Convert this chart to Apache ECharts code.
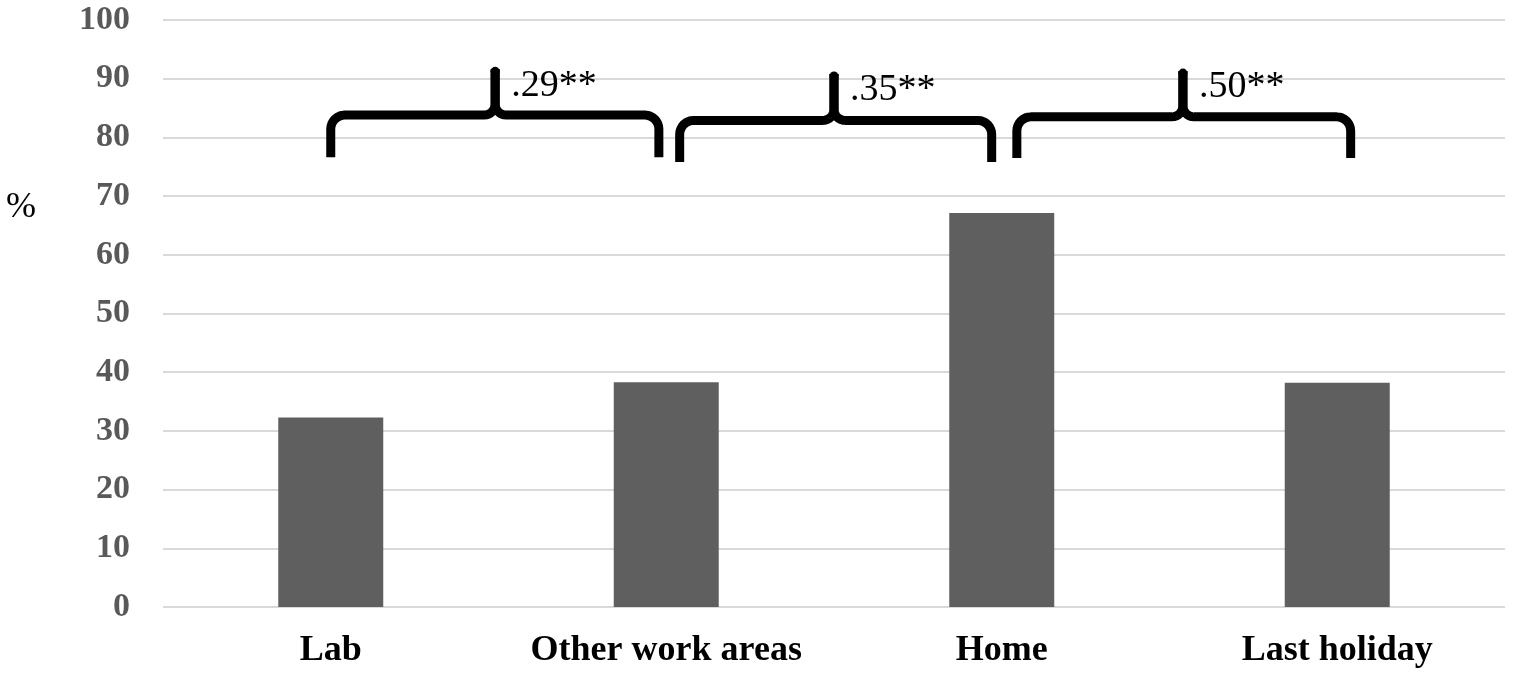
<!DOCTYPE html>
<html>
<head>
<meta charset="utf-8">
<title>Location chart</title>
<script src="https://cdn.jsdelivr.net/npm/echarts@6/dist/echarts.min.js"></script>
<style>
  html, body { margin: 0; padding: 0; background: #fff; }
  #chart { width: 1525px; height: 678px; }
</style>
</head>
<body>
<div id="chart"></div>
<script>
// categories and bar values (%)
var categories = ['Lab', 'Other work areas', 'Home', 'Last holiday'];
var values = [32.3, 38.3, 67.1, 38.2];
var yTicks = [0, 10, 20, 30, 40, 50, 60, 70, 80, 90, 100];

// braces between neighbouring bars (x in category units, y in %)
var braceStart = [0.0, 1.04, 2.045];
var braceEnd = [0.978, 1.97, 3.04];
var braceTip = [0.49, 1.50, 2.54];
var braceBottom = [76.6, 75.8, 76.5];
var braceFlat = [83.8, 82.9, 83.5];
var braceTop = [91.6, 90.8, 91.3];
var braceLabelY = [88.8, 88.0, 88.5];
var braceLabels = ['.29**', '.35**', '.50**'];

var braceData = [];
for (var i = 0; i < braceLabels.length; i++) {
	braceData.push([braceStart[i], braceEnd[i], braceTip[i], braceBottom[i], braceFlat[i], braceTop[i], braceLabelY[i], braceLabels[i]]);
}

var FONT = '"Liberation Serif", "Times New Roman", serif';

// quarter arc points, screen coords
function arc(cx, cy, r, a0, a1, n) {
	var pts = [];
	for (var k = 0; k <= n; k++) {
		var a = a0 + (a1 - a0) * k / n;
		pts.push([cx + r * Math.cos(a), cy + r * Math.sin(a)]);
	}
	return pts;
}

function renderBrace(params, api) {
	var p0 = api.coord([api.value(0), api.value(3)]);
	var p1 = api.coord([api.value(1), api.value(3)]);
	var pt = api.coord([api.value(2), api.value(5)]);
	var yf = api.coord([0, api.value(4)])[1];
	var yl = api.coord([0, api.value(6)])[1];
	var x0 = p0[0], x1 = p1[0], yb = p0[1], xt = pt[0], yt = pt[1];
	var r = 14, c = 11;

	var left = [[x0, yb], [x0, yf + r]]
		.concat(arc(x0 + r, yf + r, r, Math.PI, Math.PI * 1.5, 8))
		.concat([[xt - c, yf]])
		.concat(arc(xt - c, yf - c, c, Math.PI * 0.5, 0, 8))
		.concat([[xt, yt]]);
	var right = [[x1, yb], [x1, yf + r]]
		.concat(arc(x1 - r, yf + r, r, 0, -Math.PI * 0.5, 8))
		.concat([[xt + c, yf]])
		.concat(arc(xt + c, yf - c, c, Math.PI * 0.5, Math.PI, 8))
		.concat([[xt, yt]]);

	var lineStyle = { stroke: '#000', lineWidth: 9, fill: null, lineJoin: 'round', lineCap: 'butt' };
	return {
		type: 'group',
		children: [
			{ type: 'polyline', shape: { points: left }, style: lineStyle },
			{ type: 'polyline', shape: { points: right }, style: lineStyle },
			{ type: 'circle', shape: { cx: xt, cy: yt + 2, r: 4.5 }, style: { fill: '#000' } },
			{
				type: 'text',
				x: xt + 16,
				y: yl,
				style: {
					text: api.value(7),
					fill: '#000',
					font: '38px ' + FONT,
					verticalAlign: 'middle',
					align: 'left'
				}
			}
		]
	};
}

var myChart = echarts.init(document.getElementById('chart'), null, { renderer: 'canvas' });

var option = {
	animation: false,
	backgroundColor: '#fff',
	grid: { left: 163, right: 20, top: 20, bottom: 71, containLabel: false },
	xAxis: [{
		type: 'category',
		data: categories,
		axisLine: { show: false },
		axisTick: { show: false },
		axisLabel: {
			color: '#000',
			fontFamily: FONT,
			fontWeight: 'bold',
			fontSize: 36,
			margin: 26,
			interval: 0
		}
	}, {
		type: 'value',
		min: -0.5,
		max: 3.5,
		show: false
	}],
	yAxis: {
		type: 'value',
		min: yTicks[0],
		max: yTicks[yTicks.length - 1],
		interval: 10,
		axisLine: { show: false },
		axisTick: { show: false },
		splitLine: { lineStyle: { color: '#d9d9d9', width: 2 } },
		axisLabel: {
			color: '#595959',
			fontFamily: FONT,
			fontWeight: 'bold',
			fontSize: 34,
			margin: 33
		}
	},
	graphic: [{
		type: 'text',
		left: 6,
		top: 190,
		style: { text: '%', fill: '#000', font: '36px ' + FONT }
	}],
	series: [{
		type: 'bar',
		data: values,
		barWidth: 105,
		itemStyle: { color: '#5f5f5f' }
	}, {
		type: 'custom',
		xAxisIndex: 1,
		data: braceData,
		encode: { x: [0, 1, 2], y: [3, 4, 5] },
		renderItem: renderBrace,
		z: 5
	}]
};

myChart.setOption(option);
</script>
</body>
</html>
